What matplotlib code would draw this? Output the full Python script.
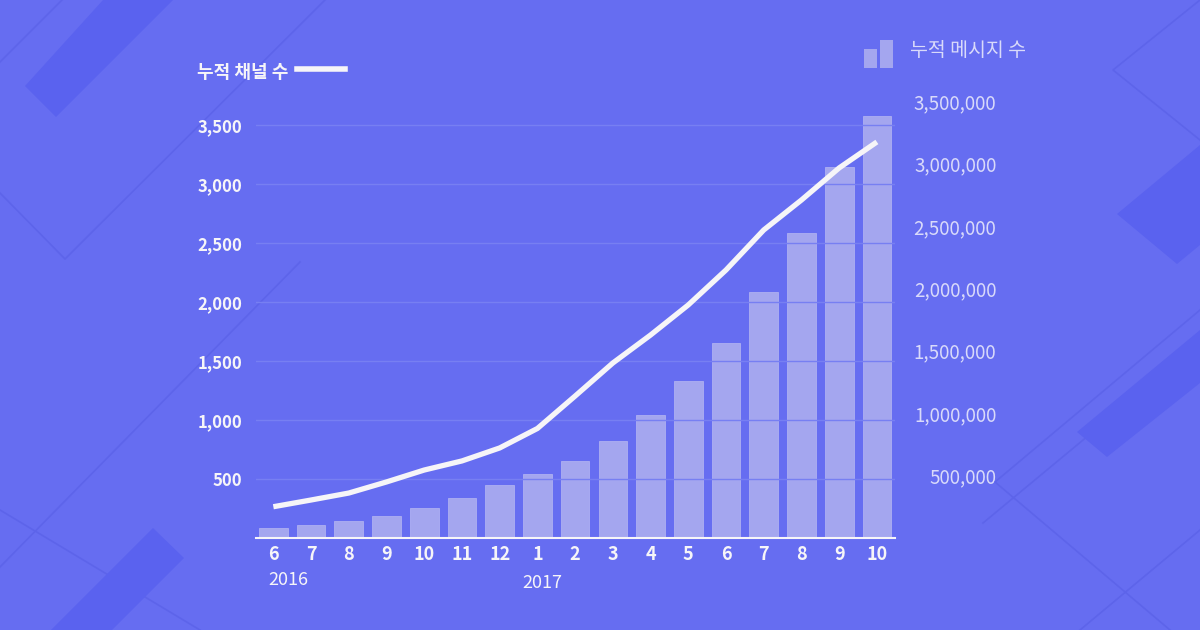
"""누적 채널 수 / 누적 메시지 수 (2016.6 ~ 2017.10) - bar + line, twin axes."""
import numpy as np
import matplotlib
matplotlib.use("Agg")
import matplotlib.pyplot as plt
from matplotlib.patches import Polygon, Rectangle
from matplotlib.lines import Line2D

plt.rcParams["font.family"] = ["Noto Sans CJK KR", "DejaVu Sans"]

# data
months = ["6", "7", "8", "9", "10", "11", "12", "1", "2", "3", "4", "5", "6", "7", "8", "9", "10"]
years = ["2016", "2017"]
channels = [265, 322, 381, 475, 576, 653, 763, 928, 1203, 1483, 1720, 1975, 2271, 2610, 2864, 3136, 3356]
messages = [82000, 106000, 140000, 177000, 240000, 321000, 421000, 510000, 616000, 779000,
            987000, 1257000, 1564000, 1968000, 2443000, 2971000, 3380000]
left_ticks = [500, 1000, 1500, 2000, 2500, 3000, 3500]
right_ticks = [500000, 1000000, 1500000, 2000000, 2500000, 3000000, 3500000]

BG = "#666df1"
DARK = "#5a62ef"
EDGE = "#5d64ea"
BAR = "#a4a6ef"
WHITE = "#f6f5f8"
LAV = "#d9dafa"
GRID = "#777ff2"

W, H = 1200, 630
fig = plt.figure(figsize=(12, 6.3), dpi=100, facecolor=BG)


def px(pts):
    # pixel coords (top-left origin) -> figure fraction
    return [(x / W, 1 - y / H) for x, y in pts]


# decorative background shapes
for poly in [[(25, 86), (103, 0), (173, 0), (56, 117)],
             [(51, 630), (153, 528), (184, 558), (112, 630)],
             [(1117, 214), (1200, 145), (1200, 245), (1177, 264)],
             [(1077, 432), (1200, 330), (1200, 383), (1107, 457)]]:
    fig.patches.append(Polygon(px(poly), closed=True, transform=fig.transFigure,
                               facecolor=DARK, edgecolor="none", zorder=0))
for seg in [[(0, 62), (62, 0)],
            [(0, 193), (65, 259), (325, 0)],
            [(0, 567), (300, 262)],
            [(0, 510), (200, 630)],
            [(1200, 0), (1113, 70), (1200, 140)],
            [(1200, 310), (995, 482), (1170, 630)],
            [(983, 523), (1200, 343)],
            [(1080, 630), (1200, 530)]]:
    xs, ys = zip(*px(seg))
    fig.lines.append(Line2D(xs, ys, transform=fig.transFigure, color=EDGE, lw=1.2, zorder=0))

# axes
ax = fig.add_axes([256 / W, 1 - 538 / H, (895 - 256) / W, (538 - 101) / H])
ax2 = ax.twinx()
ax.patch.set_visible(False)
ax2.patch.set_visible(False)
ax.set_zorder(ax2.get_zorder() + 1)

x = np.arange(len(months))
ax2.bar(x, messages, width=0.76, color=BAR, edgecolor="#aeb0f2", linewidth=0.6, zorder=2)
ax.plot(x, channels, color=WHITE, lw=3.8, solid_capstyle="butt", zorder=5)

ax.set_xlim(-0.46, 16.48)
ax.set_ylim(0, 3703)
ax2.set_ylim(0, 3500000)

ax.set_yticks(left_ticks)
ax.set_yticklabels([f"{v:,}" for v in left_ticks], color=WHITE, fontsize=12, fontweight="bold")
ax2.set_yticks(right_ticks)
ax2.set_yticklabels([f"{v:,}" for v in right_ticks], color=LAV, fontsize=13.5,
                    fontweight="medium", ha="right")
ax.tick_params(axis="y", length=0, pad=10)
ax2.tick_params(axis="y", length=0, pad=73)
ax.set_xticks(x)
ax.set_xticklabels(months, color=WHITE, fontsize=13, fontweight="bold")
ax.tick_params(axis="x", length=0, pad=5)
ax2.tick_params(axis="x", length=0)

for v in left_ticks:
    ax.axhline(v, color=GRID, lw=1, zorder=1)

for a in (ax, ax2):
    for s in ("top", "right", "left"):
        a.spines[s].set_visible(False)
ax2.spines["bottom"].set_visible(False)
ax.spines["bottom"].set_color(WHITE)
ax.spines["bottom"].set_linewidth(1.5)

# year labels
fig.text(288 / W, 1 - 580 / H, years[0], color=WHITE, fontsize=13, ha="center", va="center")
fig.text(542 / W, 1 - 583 / H, years[1], color=WHITE, fontsize=13, ha="center", va="center")

# legends
fig.text(197 / W, 1 - 72 / H, "누적 채널 수", color=WHITE, fontsize=13, fontweight="bold",
         ha="left", va="center")
fig.lines.append(Line2D([297 / W, 345 / W], [1 - 69 / H, 1 - 69 / H], transform=fig.transFigure,
                        color=WHITE, lw=4))
fig.patches.append(Rectangle((864 / W, 1 - 68 / H), 13 / W, 19 / H, transform=fig.transFigure,
                             facecolor=BAR, edgecolor="none"))
fig.patches.append(Rectangle((880 / W, 1 - 68 / H), 13 / W, 28 / H, transform=fig.transFigure,
                             facecolor=BAR, edgecolor="none"))
fig.text(910 / W, 1 - 50 / H, "누적 메시지 수", color=LAV, fontsize=14, ha="left", va="center")

fig.savefig("out.png", dpi=100, facecolor=BG)
